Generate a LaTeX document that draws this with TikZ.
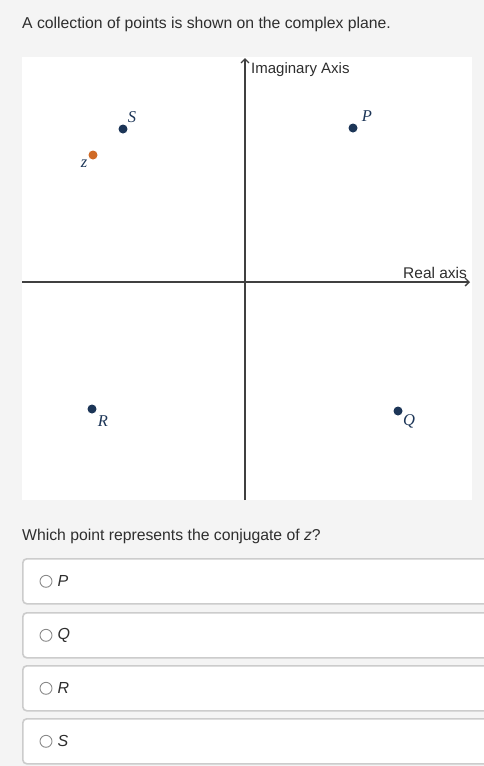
\documentclass[tikz,border=0pt]{standalone}
\usepackage{xcolor}
\usepackage{fontspec}
\setmainfont{Liberation Sans}
\newfontfamily\ptfont{Liberation Serif}
\usetikzlibrary{positioning,arrows.meta}

\definecolor{pagebg}{HTML}{F4F4F4}
\definecolor{inkgray}{HTML}{2E2E2E}
\definecolor{axisgray}{HTML}{404040}
\definecolor{navy}{HTML}{1C3557}
\definecolor{zorange}{HTML}{D06A26}
\definecolor{boxline}{HTML}{CCCCCC}
\definecolor{radiogray}{HTML}{8A8A8A}

\begin{document}
\begin{tikzpicture}[x=1pt, y=-1pt,
  ptdot/.style={circle, fill=navy, inner sep=0pt, minimum size=9pt},
  ptname/.style={inner sep=0pt, text=navy, font=\fontsize{16.5}{16.5}\ptfont\itshape},
  axisline/.style={axisgray, line width=2pt, -{Straight Barb[length=4pt, width=8pt, line width=1.4pt]}},
  choice/.style={draw=boxline, line width=1.6pt, fill=white, rounded corners=4pt,
    anchor=north west, minimum width=480pt, minimum height=45pt, inner sep=0pt},
  radio/.style={circle, draw=radiogray, line width=0.9pt, minimum size=12pt, inner sep=0pt},
  qtext/.style={text=inkgray, font=\fontsize{15.75}{19}\selectfont, inner sep=0pt}]

\useasboundingbox (0,0) rectangle (484,766);
\clip (0,0) rectangle (484,766);
\fill[pagebg] (0,0) rectangle (484,766);

% prompt
\node[qtext, anchor=base west] (title) at (22,28) {A collection of points is shown on the complex plane.};

% plane
\fill[white] (22,57) rectangle (472,500);
\coordinate (ybot) at (245,500);
\coordinate (ytop) at (245,58);
\coordinate (xleft) at (22,282);
\coordinate (xright) at (470,282);
\draw[axisline] (ybot) -- (ytop);
\draw[axisline] (xleft) -- (xright);
\node[anchor=base west, inner sep=0pt, text=inkgray, font=\fontsize{15}{15}\selectfont] (imlabel) at (251,73) {Imaginary Axis};
\node[anchor=base west, inner sep=0pt, text=inkgray, font=\fontsize{15.5}{15}\selectfont] (relabel) at (403,278) {Real axis};

% points
\node[ptdot] (S) at (123,129) {};
\node[ptdot, fill=zorange] (z) at (93,155) {};
\node[ptdot] (P) at (353,128) {};
\node[ptdot] (R) at (92,409) {};
\node[ptdot] (Q) at (398,411) {};

\node[ptname] (Slabel) at (132,117) {S};
\node[ptname] (zlabel) at (84,164) {z};
\node[ptname] (Plabel) at (367,116) {P};
\node[ptname] (Rlabel) at (103,421) {R};
\node[ptname] (Qlabel) at (409,421) {Q};

% question
\node[qtext, anchor=base west] (question) at (22,540) {Which point represents the conjugate of \textit{z}?};

% answer choices
\foreach \letter/\top in {P/558, Q/612, R/665, S/718} {
  \node[choice] (box\letter) at (22,\top) {};
  \node[radio] (radio\letter) at ([xshift=24pt]box\letter.west) {};
  \node[qtext, right=5pt of radio\letter, font=\fontsize{16}{19}\selectfont\itshape] (opt\letter) {\letter};
}

\end{tikzpicture}
\end{document}
